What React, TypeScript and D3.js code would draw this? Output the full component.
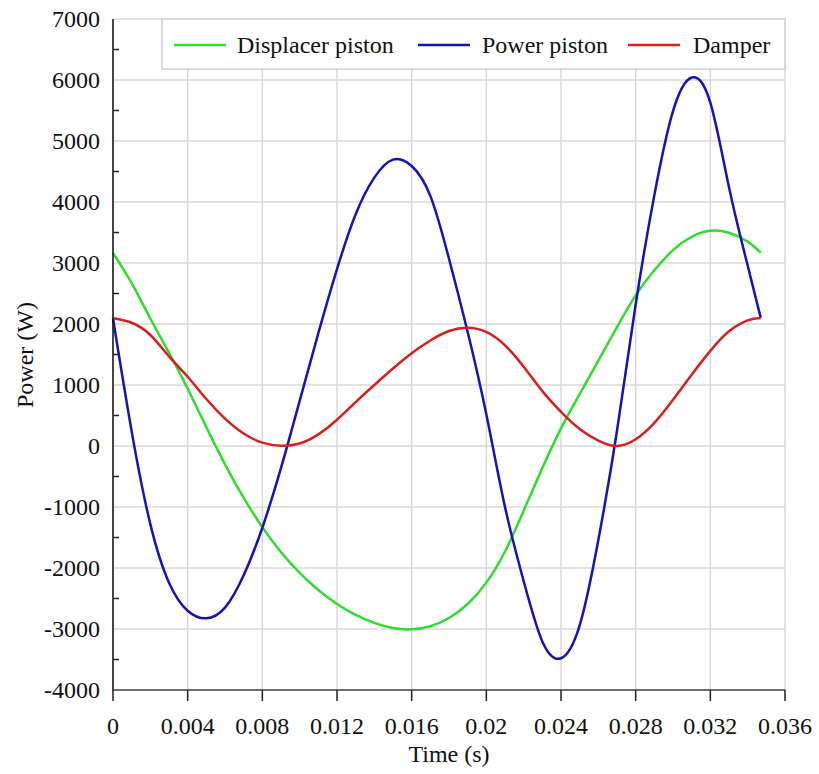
import React from "react";
import * as d3 from "d3";

const xTicks = [0, 0.004, 0.008, 0.012, 0.016, 0.02, 0.024, 0.028, 0.032, 0.036];
const xTickLabels = ["0", "0.004", "0.008", "0.012", "0.016", "0.02", "0.024", "0.028", "0.032", "0.036"];
const yTicks = [-4000, -3000, -2000, -1000, 0, 1000, 2000, 3000, 4000, 5000, 6000, 7000];
const yMinorTicks = [-3500, -2500, -1500, -500, 500, 1500, 2500, 3500, 4500, 5500, 6500];

const seriesNames = ["Displacer piston", "Power piston", "Damper"];
const seriesColors = ["#2fdc2f", "#1414b4", "#d61f1f"];

const timeGrid = [0, 0.001, 0.002, 0.003, 0.004, 0.005, 0.006, 0.007, 0.008, 0.009, 0.01, 0.011, 0.012, 0.013, 0.014, 0.015, 0.016, 0.017, 0.018, 0.019, 0.02, 0.021, 0.022, 0.023, 0.024, 0.025, 0.026, 0.027, 0.028, 0.029, 0.03, 0.031, 0.032, 0.033, 0.034, 0.0347];

const displacerP = [3165, 2670, 2090, 1530, 940, 310, -300, -850, -1330, -1740, -2080, -2360, -2590, -2770, -2900, -2985, -3005, -2955, -2820, -2590, -2240, -1730, -1060, -360, 290, 850, 1400, 1950, 2470, 2880, 3210, 3430, 3527, 3495, 3350, 3169];

const powerP = [2090, 240, -1280, -2240, -2700, -2825, -2650, -2120, -1340, -360, 740, 1850, 2900, 3800, 4400, 4695, 4590, 4100, 3070, 1870, 520, -1000, -2215, -3204, -3480, -2940, -1540, 250, 2320, 4110, 5490, 6040, 5630, 4240, 2960, 2100];

const damperP = [2093, 2020, 1820, 1470, 1136, 770, 450, 205, 55, 5, 40, 190, 430, 720, 1000, 1270, 1520, 1730, 1885, 1940, 1870, 1650, 1300, 900, 560, 280, 90, 0, 110, 380, 760, 1170, 1560, 1880, 2060, 2100];

const FONT = "'Times New Roman', 'Liberation Serif', Times, serif";

export default function App() {
  const W = 819, H = 774;
  const x = d3.scaleLinear().domain([0, 0.036]).range([113, 785]);
  const y = d3.scaleLinear().domain([-4000, 7000]).range([690, 19]);

  const series = [displacerP, powerP, damperP];
  const line = d3.line<[number, number]>()
    .x(d => x(d[0]))
    .y(d => y(d[1]))
    .curve(d3.curveNatural);

  const legendItems = [
    { lx: 174, tx: 237 },
    { lx: 418, tx: 482 },
    { lx: 628, tx: 693 },
  ];

  const T = (props: any) => (
    <text {...props} fontFamily={FONT} fontSize={24} fill="#111" />
  );

  return (
    <svg width={W} height={H} style={{ position: "absolute", left: 0, top: 0, background: "#fff" }}>
      <rect x={0} y={0} width={W} height={H} fill="#fff" />
      {xTicks.map((t, i) => (
        <line key={"gx" + i} x1={x(t)} x2={x(t)} y1={y(7000)} y2={y(-4000)} stroke="#d8d8d8" strokeWidth={1.5} />
      ))}
      {yTicks.map((v, i) => (
        <line key={"gy" + i} x1={x(0)} x2={x(0.036)} y1={y(v)} y2={y(v)} stroke="#d8d8d8" strokeWidth={1.5} />
      ))}
      {series.map((p, i) => (
        <path key={"s" + i} d={line(timeGrid.map((t, j) => [t, p[j]] as [number, number])) || ""} fill="none" stroke={seriesColors[i]} strokeWidth={2.5} strokeLinejoin="round" />
      ))}
      <line x1={x(0)} x2={x(0)} y1={y(7000)} y2={y(-4000) + 1} stroke="#111" strokeWidth={1.5} />
      <line x1={x(0)} x2={x(0.036)} y1={y(-4000)} y2={y(-4000)} stroke="#444" strokeWidth={1.5} />
      {xTicks.map((t, i) => (
        <g key={"xt" + i}>
          <line x1={x(t)} x2={x(t)} y1={y(-4000)} y2={y(-4000) + 11} stroke="#222" strokeWidth={1.5} />
          <T x={x(t)} y={734} textAnchor="middle">{xTickLabels[i]}</T>
        </g>
      ))}
      {yMinorTicks.map((v, i) => (
        <line key={"ym" + i} x1={x(0)} x2={x(0) + 6} y1={y(v)} y2={y(v)} stroke="#222" strokeWidth={1.5} />
      ))}
      {yTicks.map((v, i) => (
        <T key={"yt" + i} x={100} y={y(v)} dy="0.35em" textAnchor="end">{String(v)}</T>
      ))}
      <T x={449} y={762} textAnchor="middle">Time (s)</T>
      <T transform={`translate(33,355) rotate(-90)`} textAnchor="middle">Power (W)</T>
      <rect x={162} y={19} width={623} height={50} fill="#fff" stroke="#cfcfcf" strokeWidth={1.5} />
      {legendItems.map((it, i) => (
        <g key={"lg" + i}>
          <line x1={it.lx} x2={it.lx + 52} y1={45} y2={45} stroke={seriesColors[i]} strokeWidth={2.5} />
          <T x={it.tx} y={53}>{seriesNames[i]}</T>
        </g>
      ))}
    </svg>
  );
}
